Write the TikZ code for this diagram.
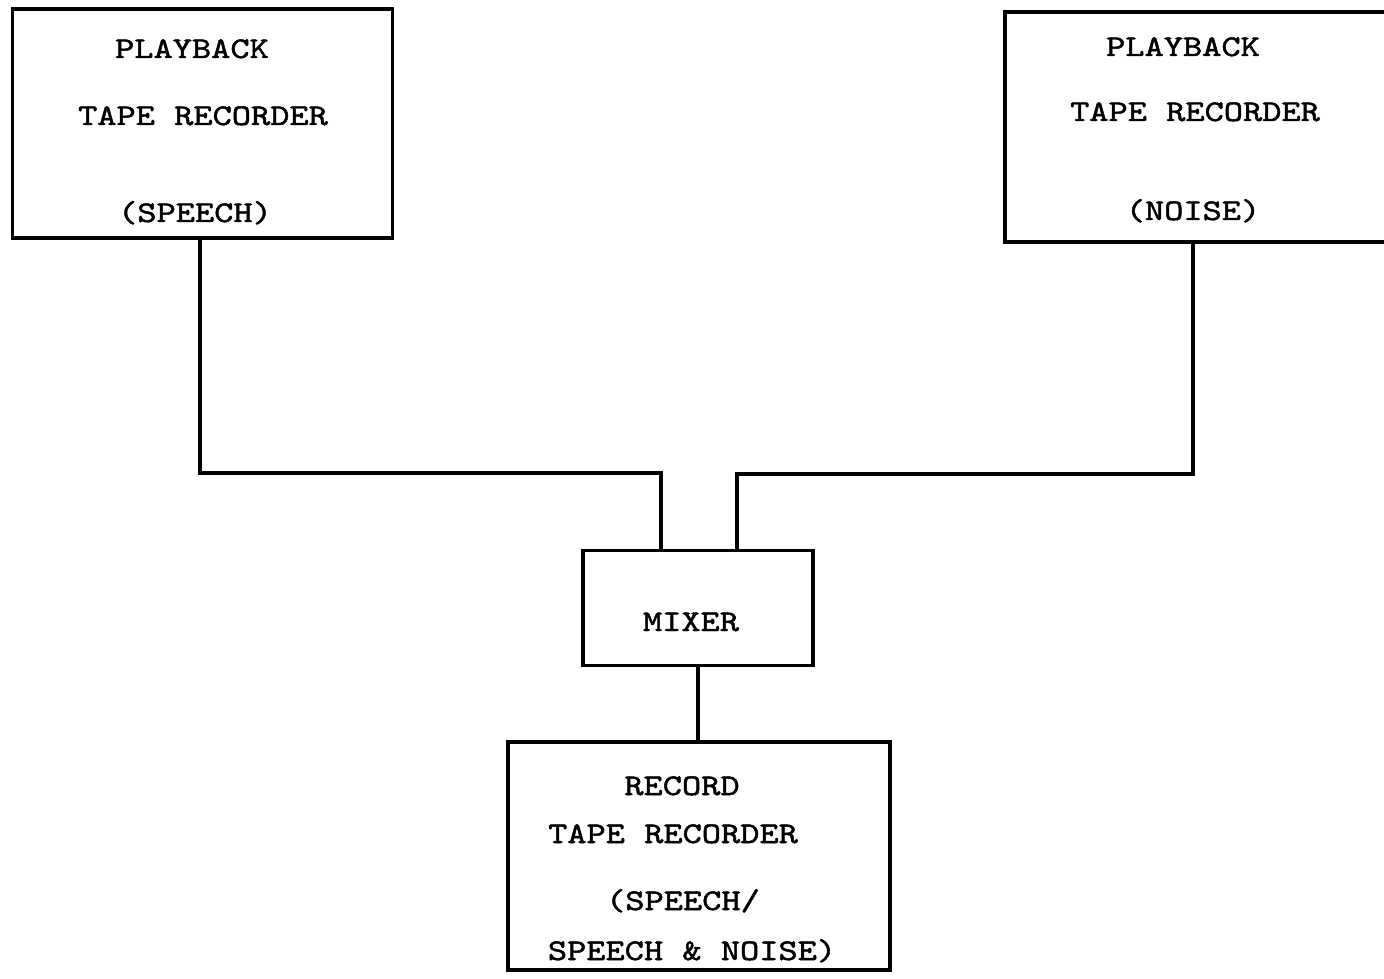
\documentclass[tikz,border=0pt]{standalone}
\usepackage{fontspec}
\newfontfamily\twfont{lmmono10-regular.otf}[FakeStretch=1.22,FakeBold=1.6]
\begin{document}
\begin{tikzpicture}[x=0.5pt,y=-0.5pt,
  box/.style={draw=black,line width=1.7pt,rectangle,inner sep=0pt},
  lbl/.style={font=\twfont\fontsize{15}{18}\selectfont,anchor=base,inner sep=0pt},
  wire/.style={draw=black,line width=1.7pt,line cap=rect}]
\useasboundingbox (0,0) rectangle (1384,978);
\clip (0,0) rectangle (1384,978);
% boxes
\node[box,minimum width=380*0.5pt,minimum height=229*0.5pt] (spk) at (202.5,123.5) {};
\node[box,minimum width=400*0.5pt,minimum height=230*0.5pt] (noi) at (1205,127) {};
\node[box,minimum width=230*0.5pt,minimum height=115*0.5pt] (mix) at (698,608) {};
\node[box,minimum width=382*0.5pt,minimum height=228*0.5pt] (rec) at (699,856) {};
% texts
\node[lbl] (t1) at (192,58) {PLAYBACK};
\node[lbl] (t2) at (203,125) {TAPE RECORDER};
\node[lbl] (t3) at (195,222) {(SPEECH)};
\node[lbl] (t4) at (1183,56) {PLAYBACK};
\node[lbl] (t5) at (1195,121) {TAPE RECORDER};
\node[lbl] (t6) at (1193,220) {(NOISE)};
\node[lbl] (t7) at (691,631) {MIXER};
\node[lbl] (t8) at (682,795) {RECORD};
\node[lbl] (t9) at (673,843) {TAPE RECORDER};
\node[lbl] (t10) at (683,910) {(SPEECH/};
\node[lbl] (t11) at (692,960) {SPEECH \& NOISE)};
% connectors
\coordinate (j1) at (200,473);
\coordinate (j2) at (1193,474);
\draw[wire] (spk.south -| j1) -- (j1) -- (661,473) -- (mix.north -| 661,0);
\draw[wire] (noi.south -| j2) -- (j2) -- (737,474) -- (mix.north -| 737,0);
\draw[wire] (mix.south) -- (rec.north -| mix.south);
\end{tikzpicture}
\end{document}
